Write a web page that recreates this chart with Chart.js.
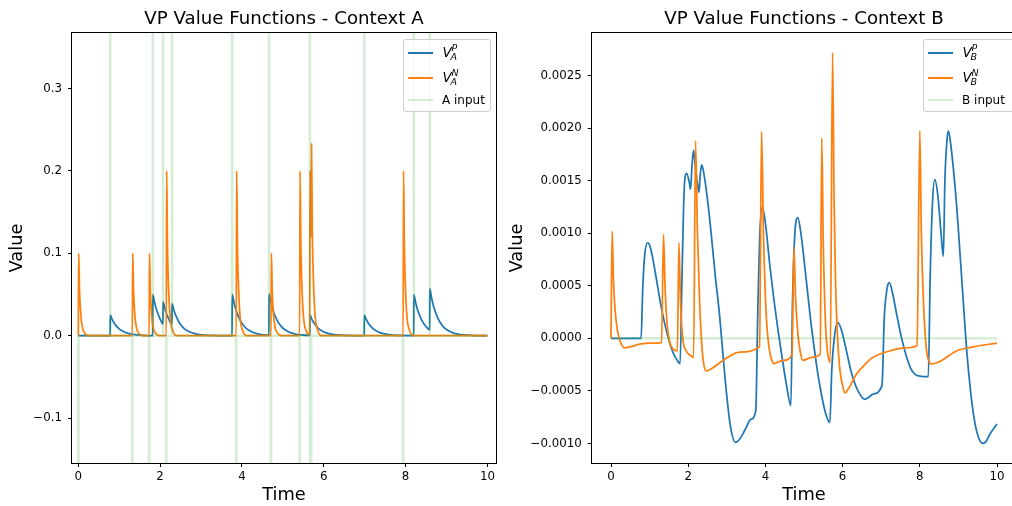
<!DOCTYPE html>
<html>
<head>
<meta charset="utf-8">
<script src="https://cdn.jsdelivr.net/npm/chart.js@4.4.1/dist/chart.umd.min.js"></script>
<style>
html,body{margin:0;padding:0;background:#fff;}
#wrap{position:relative;width:1012px;height:506px;overflow:hidden;background:#fff;}
canvas{position:absolute;top:0;}
.leg{position:absolute;top:39px;height:73px;border:1px solid #cfcfcf;border-radius:3px;background:rgba(255,255,255,0.8);box-sizing:border-box;font-family:"DejaVu Sans",sans-serif;color:#000;}
.h{position:absolute;left:4px;width:24.5px;height:2px;margin-top:-1px;}
.t{position:absolute;white-space:nowrap;line-height:1;transform:translateY(-50%);}
</style>
</head>
<body>
<div id="wrap">
<canvas id="cA" width="500" height="506" style="left:0px"></canvas>
<canvas id="cB" width="530" height="506" style="left:500px"></canvas>
<div id="legA" class="leg" style="left:403px;width:88px"></div>
<div id="legB" class="leg" style="left:923px;width:95px"></div>
</div>
<script>
// ---------------- data: Context A ----------------
const titleA = 'VP Value Functions - Context A';
const labelsA = ['V_A^P', 'V_A^N', 'A input'];
const tAP = [0, 0.78, 0.781, 0.83, 0.88, 0.98, 1.08, 1.18, 1.38, 1.58, 1.82, 1.821, 1.87, 1.92, 1.99, 2.07, 2.071, 2.12, 2.18, 2.29, 2.291, 2.34, 2.39, 2.49, 2.59, 2.69, 2.89, 3.09, 3.39, 3.76, 3.761, 3.81, 3.86, 3.96, 4.06, 4.16, 4.36, 4.66, 4.661, 4.71, 4.76, 4.86, 4.96, 5.06, 5.26, 5.46, 5.66, 5.661, 5.71, 5.76, 5.86, 5.96, 6.06, 6.26, 6.56, 6.99, 6.991, 7.04, 7.09, 7.19, 7.29, 7.39, 7.59, 7.89, 8.2, 8.201, 8.25, 8.3, 8.4, 8.5, 8.59, 8.591, 8.64, 8.69, 8.79, 8.89, 8.99, 9.19, 9.39, 9.69, 10];
const vAP = [0, 0, 0.025, 0.0195, 0.0152, 0.0092, 0.0056, 0.0034, 0.0012, 0.0005, 0.0002, 0.05, 0.039, 0.0303, 0.0214, 0.0143, 0.041, 0.032, 0.0237, 0.0137, 0.039, 0.0304, 0.0237, 0.0143, 0.0087, 0.0053, 0.0019, 0.0007, 0.0002, 0, 0.05, 0.039, 0.0303, 0.0184, 0.0112, 0.0068, 0.0025, 0.0006, 0.0506, 0.0394, 0.0307, 0.0186, 0.0113, 0.0069, 0.0025, 0.0009, 0.0003, 0.0253, 0.0197, 0.0153, 0.0093, 0.0056, 0.0034, 0.0013, 0.0003, 0, 0.025, 0.0195, 0.0152, 0.0092, 0.0056, 0.0034, 0.0012, 0.0003, 0, 0.05, 0.039, 0.0303, 0.0184, 0.0112, 0.0071, 0.0571, 0.0445, 0.0347, 0.021, 0.0128, 0.0078, 0.0029, 0.001, 0.0002, 0];
const tAN = [0, 0.01, 0.03, 0.06, 0.1, 0.16, 0.25,
  1.32, 1.33, 1.35, 1.38, 1.42, 1.48, 1.57,
  1.73, 1.74, 1.76, 1.79, 1.83, 1.89, 1.98,
  2.15, 2.16, 2.18, 2.21, 2.25, 2.31, 2.4,
  3.86, 3.87, 3.89, 3.92, 3.96, 4.02, 4.11,
  4.71, 4.72, 4.74, 4.77, 4.81, 4.87, 4.96,
  5.41, 5.42, 5.44, 5.47, 5.51, 5.57, 5.655,
  5.665, 5.68, 5.69, 5.7, 5.72, 5.75, 5.79, 5.85, 5.94,
  7.94, 7.95, 7.97, 8.0, 8.04, 8.1, 8.19, 10];
const vAN = [0, 0.1, 0.055, 0.027, 0.01, 0.003, 0,
  0, 0.1, 0.055, 0.027, 0.01, 0.003, 0,
  0, 0.1, 0.055, 0.027, 0.01, 0.003, 0,
  0, 0.2, 0.11, 0.054, 0.02, 0.006, 0,
  0, 0.2, 0.11, 0.054, 0.02, 0.006, 0,
  0, 0.1, 0.055, 0.027, 0.01, 0.003, 0,
  0, 0.2, 0.11, 0.054, 0.02, 0.006, 0.001,
  0.2, 0.14, 0.12, 0.233, 0.128, 0.063, 0.023, 0.007, 0,
  0, 0.2, 0.11, 0.054, 0.02, 0.006, 0, 0];
const tAI = [0, 0.005, 0.01, 0.776, 0.78, 0.784, 1.316, 1.32, 1.324, 1.726, 1.73, 1.734, 1.816, 1.82, 1.824, 2.066, 2.07, 2.074, 2.146, 2.15, 2.154, 2.286, 2.29, 2.294, 3.756, 3.76, 3.764, 3.856, 3.86, 3.864, 4.656, 4.66, 4.664, 4.706, 4.71, 4.714, 5.406, 5.41, 5.414, 5.656, 5.66, 5.664, 5.686, 5.69, 5.694, 6.986, 6.99, 6.994, 7.936, 7.94, 7.944, 8.196, 8.2, 8.204, 8.586, 8.59, 8.594, 10];
const vAI = [0, -1, 0, 0, 1, 0, 0, -1, 0, 0, -1, 0, 0, 1, 0, 0, 1, 0, 0, -1, 0, 0, 1, 0, 0, 1, 0, 0, -1, 0, 0, 1, 0, 0, -1, 0, 0, -1, 0, 0, 1, 0, 0, -1, 0, 0, 1, 0, 0, -1, 0, 0, 1, 0, 0, 1, 0, 0];
const xTicksA = [0, 2, 4, 6, 8, 10];
const xTickLabelsA = ['0', '2', '4', '6', '8', '10'];
const yTicksA = [-0.1, 0, 0.1, 0.2, 0.3];
const yTickLabelsA = ['\u22120.1', '0.0', '0.1', '0.2', '0.3'];

// ---------------- data: Context B ----------------
const titleB = 'VP Value Functions - Context B';
const labelsB = ['V_B^P', 'V_B^N', 'B input'];
const tBP = [0, 0.78, 0.82, 0.87, 0.95, 1.03, 1.15, 1.3, 1.45, 1.6, 1.7, 1.79, 1.84, 1.9, 1.96, 2.03, 2.06, 2.1, 2.14, 2.18, 2.25, 2.28, 2.31, 2.35, 2.4, 2.5, 2.6, 2.7, 2.81, 2.9, 3.0, 3.1, 3.22, 3.35, 3.5, 3.62, 3.75, 3.8, 3.85, 3.92, 4.0, 4.11, 4.22, 4.33, 4.44, 4.54, 4.66, 4.7, 4.76, 4.84, 4.92, 5.06, 5.18, 5.32, 5.42, 5.55, 5.67, 5.72, 5.8, 5.88, 5.97, 6.1, 6.23, 6.36, 6.5, 6.57, 6.68, 6.79, 7.02, 7.08, 7.15, 7.21, 7.3, 7.4, 7.53, 7.66, 7.77, 7.87, 8.0, 8.22, 8.27, 8.33, 8.39, 8.47, 8.55, 8.61, 8.65, 8.7, 8.74, 8.8, 8.95, 9.08, 9.21, 9.3, 9.39, 9.5, 9.63, 9.72, 9.82, 10];
const vBP = [0, 0, 0.45e-3, 0.78e-3, 0.91e-3, 0.85e-3, 0.62e-3, 0.30e-3, 0.05e-3, -0.13e-3, -0.2e-3, -0.24e-3, 0.6e-3, 1.45e-3, 1.57e-3, 1.48e-3, 1.42e-3, 1.65e-3, 1.79e-3, 1.65e-3, 1.45e-3, 1.39e-3, 1.55e-3, 1.65e-3, 1.58e-3, 1.32e-3, 0.98e-3, 0.6e-3, 0.23e-3, -0.15e-3, -0.55e-3, -0.85e-3, -0.99e-3, -0.95e-3, -0.85e-3, -0.77e-3, -0.69e-3, 0.2e-3, 0.95e-3, 1.25e-3, 1.1e-3, 0.71e-3, 0.37e-3, 0.07e-3, -0.2e-3, -0.43e-3, -0.64e-3, 0.3e-3, 0.98e-3, 1.15e-3, 1.0e-3, 0.55e-3, 0.15e-3, -0.24e-3, -0.47e-3, -0.7e-3, -0.8e-3, -0.3e-3, 0.05e-3, 0.15e-3, 0.08e-3, -0.12e-3, -0.33e-3, -0.47e-3, -0.56e-3, -0.58e-3, -0.56e-3, -0.53e-3, -0.45e-3, 0.2e-3, 0.47e-3, 0.53e-3, 0.42e-3, 0.23e-3, 0.0, -0.18e-3, -0.29e-3, -0.34e-3, -0.36e-3, -0.365e-3, 0.6e-3, 1.3e-3, 1.51e-3, 1.35e-3, 1.0e-3, 0.78e-3, 1.5e-3, 1.87e-3, 1.975e-3, 1.85e-3, 1.28e-3, 0.6e-3, -0.09e-3, -0.45e-3, -0.72e-3, -0.92e-3, -1.0e-3, -0.98e-3, -0.91e-3, -0.815e-3];
const tBN = [0, 0.03, 0.06, 0.1, 0.17, 0.25, 0.35, 0.5, 0.74, 1.05, 1.31, 1.36, 1.4, 1.45, 1.51, 1.6, 1.72, 1.76, 1.8, 1.86, 1.95, 2.05, 2.14, 2.19, 2.24, 2.3, 2.36, 2.41, 2.47, 2.6, 2.9, 3.33, 3.85, 3.9, 3.95, 4.02, 4.1, 4.16, 4.22, 4.45, 4.69, 4.74, 4.78, 4.84, 4.9, 4.97, 5.2, 5.42, 5.46, 5.5, 5.55, 5.6, 5.68, 5.74, 5.78, 5.82, 5.87, 5.93, 6.0, 6.06, 6.15, 6.36, 6.6, 6.79, 7.22, 7.6, 7.93, 8.0, 8.04, 8.1, 8.17, 8.24, 8.3, 8.45, 8.61, 8.95, 9.39, 10];
const vBN = [0, 1.02e-3, 0.6e-3, 0.3e-3, 0.07e-3, -0.04e-3, -0.09e-3, -0.08e-3, -0.055e-3, -0.045e-3, -0.04e-3, 0.99e-3, 0.5e-3, 0.15e-3, -0.02e-3, -0.1e-3, -0.12e-3, 0.91e-3, 0.35e-3, 0.0, -0.12e-3, -0.16e-3, -0.18e-3, 1.88e-3, 1.0e-3, 0.3e-3, -0.1e-3, -0.26e-3, -0.31e-3, -0.29e-3, -0.21e-3, -0.13e-3, -0.08e-3, 1.97e-3, 1.0e-3, 0.23e-3, -0.1e-3, -0.2e-3, -0.24e-3, -0.21e-3, -0.155e-3, 0.87e-3, 0.4e-3, 0.05e-3, -0.12e-3, -0.21e-3, -0.18e-3, -0.15e-3, 1.905e-3, 0.9e-3, 0.2e-3, -0.1e-3, -0.23e-3, 2.72e-3, 1.3e-3, 0.5e-3, 0.0, -0.3e-3, -0.45e-3, -0.52e-3, -0.48e-3, -0.34e-3, -0.24e-3, -0.18e-3, -0.12e-3, -0.09e-3, -0.07e-3, 1.975e-3, 1.0e-3, 0.3e-3, -0.1e-3, -0.22e-3, -0.245e-3, -0.23e-3, -0.2e-3, -0.12e-3, -0.08e-3, -0.045e-3];
const tBI = [0, 10];
const vBI = [0, 0];
const xTicksB = [0, 2, 4, 6, 8, 10];
const xTickLabelsB = ['0', '2', '4', '6', '8', '10'];
const yTicksB = [-0.001, -0.0005, 0, 0.0005, 0.001, 0.0015, 0.002, 0.0025];
const yTickLabelsB = ['\u22120.0010', '\u22120.0005', '0.0000', '0.0005', '0.0010', '0.0015', '0.0020', '0.0025'];

// ---------------- rendering ----------------
const FONT = 'DejaVu Sans';
const COLORS = ['#1f77b4', '#ff7f0e', 'rgba(44,160,44,0.2)'];

function series(ts, vs) { return ts.map((t, i) => ({x: t, y: vs[i]})); }

function axis(min, max, ticks, labels, title, isX, size) {
  return {
    type: 'linear', min: min, max: max,
    afterBuildTicks: s => { s.ticks = ticks.map(v => ({value: v})); },
    afterFit: s => { if (isX) s.height = size; else s.width = size; },
    ticks: {autoSkip: false, maxRotation: 0, minRotation: 0, padding: isX ? 3 : 6, color: '#000',
      font: {family: FONT, size: 11.8}, callback: (v, i) => labels[i]},
    grid: {display: true, drawOnChartArea: false, drawTicks: true, tickLength: 4, tickColor: '#000', tickWidth: 1},
    border: {display: false},
    title: {display: true, text: title, color: '#000', font: {family: FONT, size: 17.8, lineHeight: 1.2},
      padding: isX ? {top: 0, bottom: 0} : {top: 7, bottom: 0}}
  };
}

const framePlugin = {
  id: 'frame',
  afterDraw(c) {
    const {ctx, chartArea: a} = c;
    ctx.save();
    ctx.strokeStyle = '#000';
    ctx.lineWidth = 1;
    const l = Math.round(a.left) - 0.5, t = Math.round(a.top) - 0.5;
    const r = Math.round(a.right) + 0.5, b = Math.round(a.bottom) + 0.5;
    ctx.strokeRect(l, t, r - l, b - t);
    ctx.restore();
  }
};
const titlePlugin = {
  id: 'ttl',
  afterDraw(c, args, o) {
    const {ctx, chartArea: a} = c;
    ctx.save();
    ctx.font = '18.2px "' + FONT + '"';
    ctx.fillStyle = '#000';
    ctx.textAlign = 'center';
    ctx.textBaseline = 'middle';
    ctx.fillText(o.text, (a.left + a.right) / 2, 19.5);
    ctx.restore();
  }
};

function makeChart(id, title, labels, sets, xr, yr, xT, xL, yT, yL, yAxisWidth, padRight) {
  const datasets = sets.map((s, i) => ({
    label: labels[i],
    data: series(s[0], s[1]),
    borderColor: COLORS[i],
    backgroundColor: COLORS[i],
    borderWidth: i === 2 ? 2.5 : 1.75,
    pointRadius: 0,
    fill: false,
    borderJoinStyle: 'round',
    cubicInterpolationMode: i === 2 ? 'default' : 'monotone',
    tension: 0,
    order: 2 - i
  }));
  return new Chart(document.getElementById(id), {
    type: 'line',
    data: {datasets},
    plugins: [titlePlugin, framePlugin],
    options: {
      responsive: false, animation: false, devicePixelRatio: 1,
      layout: {padding: {top: 33, right: padRight, bottom: 0, left: 0}},
      plugins: {legend: {display: false}, tooltip: {enabled: false}, ttl: {text: title}},
      scales: {
        x: axis(xr[0], xr[1], xT, xL, 'Time', true, 43),
        y: axis(yr[0], yr[1], yT, yL, 'Value', false, yAxisWidth)
      }
    }
  });
}

function buildLegend(elId, chart, rowsY) {
  const el = document.getElementById(elId);
  let html = '';
  chart.data.datasets.forEach((d, i) => {
    const y = rowsY[i];
    html += `<div class="h" style="top:${y}px;background:${d.borderColor}"></div>`;
    const m = /^(\w)_(\w)\^(\w)$/.exec(d.label);
    if (m) {
      html += `<span class="t" style="left:38.5px;top:${y + 0.5}px;font-style:italic;font-size:13.5px">${m[1]}</span>`;
      html += `<span class="t" style="left:47.5px;top:${y - 5}px;font-style:italic;font-size:9.5px">${m[3]}</span>`;
      html += `<span class="t" style="left:46.5px;top:${y + 4}px;font-style:italic;font-size:9.5px">${m[2]}</span>`;
    } else {
      html += `<span class="t" style="left:38px;top:${y}px;font-size:12px">${d.label}</span>`;
    }
  });
  el.innerHTML = html;
}

const chartA = makeChart('cA', titleA, labelsA, [[tAP, vAP], [tAN, vAN], [tAI, vAI]],
  [-0.154, 10.21], [-0.1545, 0.3674], xTicksA, xTickLabelsA, yTicksA, yTickLabelsA, 72, 4);
const chartB = makeChart('cB', titleB, labelsB, [[tBP, vBP], [tBN, vBN], [tBI, vBI]],
  [-0.5, 10.5], [-0.001186, 0.002906], xTicksB, xTickLabelsB, yTicksB, yTickLabelsB, 91.7, 13.7);
buildLegend('legA', chartA, [12.7, 37.7, 59.5]);
buildLegend('legB', chartB, [12.7, 37.7, 59.5]);
</script>
</body>
</html>
